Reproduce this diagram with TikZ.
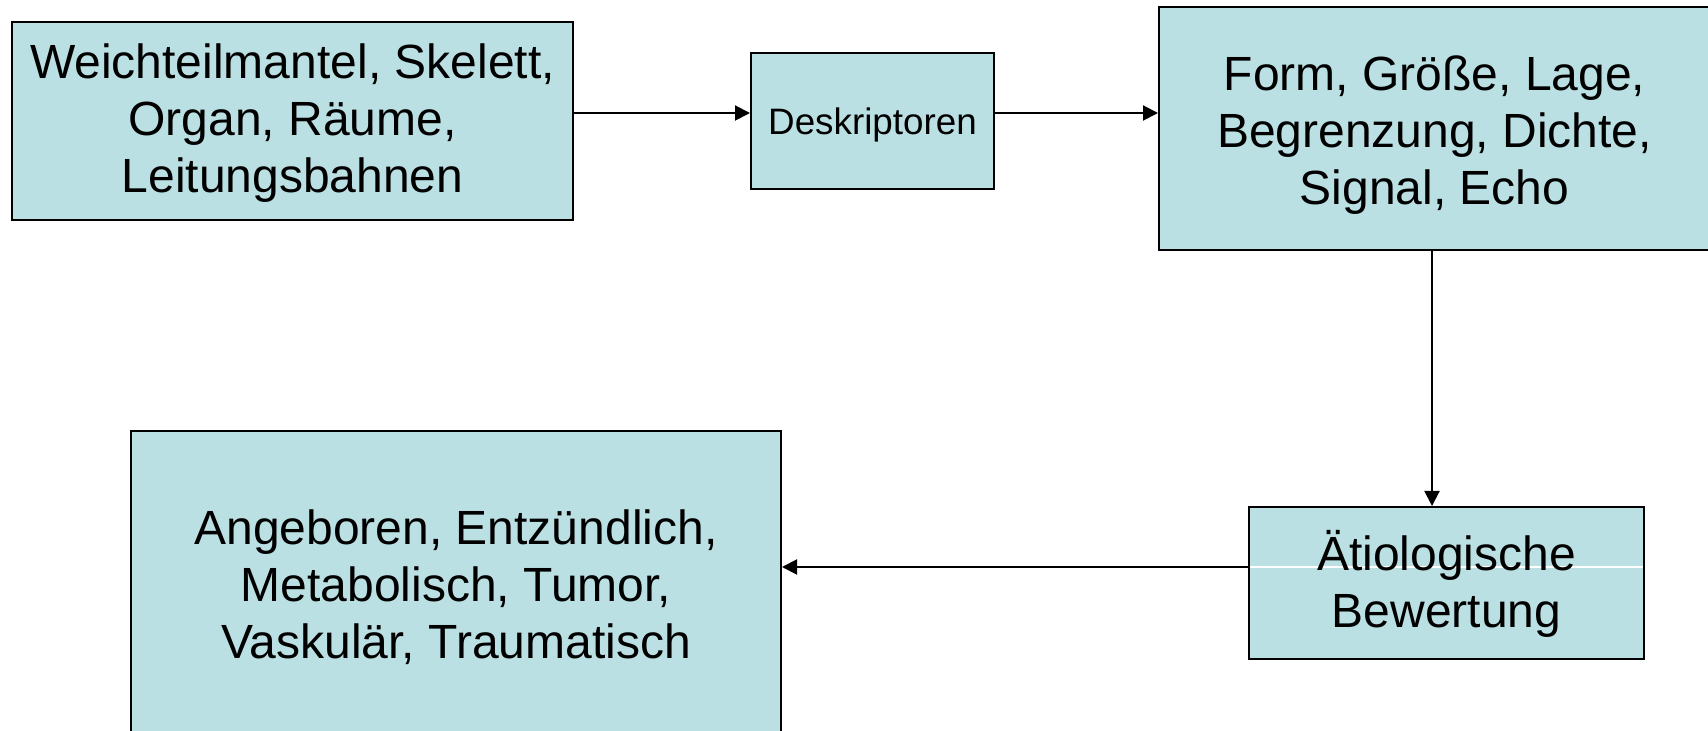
\documentclass[tikz,border=0pt]{standalone}
\usepackage{fontspec}
\setmainfont{Liberation Sans}
\usetikzlibrary{arrows.meta}
\definecolor{boxfill}{RGB}{187,224,227}
\newcommand{\shiftedtext}[2]{\raisebox{#1}[\height][\depth]{\begin{tabular}{@{}c@{}}#2\end{tabular}}}
\tikzset{
  box/.style={draw=black, line width=1pt, fill=boxfill, inner sep=0pt, align=center,
    font=\fontsize{24}{28.5}\selectfont},
  conn/.style={line width=1pt, -{Triangle[length=7.5pt,width=7.5pt]}}
}
\begin{document}
\begin{tikzpicture}[x=0.5pt,y=-0.5pt]
\useasboundingbox (0,0) rectangle (1708,731);
\node[box, minimum width=280.5pt, minimum height=99pt] (b1) at (292.5,121)
  {\shiftedtext{-1.6pt}{Weichteilmantel, Skelett,\\Organ, Räume,\\Leitungsbahnen}};
\node[box, minimum width=121.5pt, minimum height=68pt, font=\fontsize{18.4}{22}\selectfont] (b2) at (872.5,121)
  {\shiftedtext{-2.2pt}{Deskriptoren}};
\node[box, minimum width=275.5pt, minimum height=121.5pt] (b3) at (1434.5,128.5)
  {\shiftedtext{-3.8pt}{Form, Größe, Lage,\\Begrenzung, Dichte,\\Signal, Echo}};
\node[box, minimum width=197.5pt, minimum height=76pt,
  path picture={\draw[white,line width=0.6pt] ([yshift=8pt]path picture bounding box.west) -- ([yshift=8pt]path picture bounding box.east);}] (b4) at (1446.5,583)
  {\shiftedtext{-2.2pt}{Ätiologische\\Bewertung}};
\node[box, minimum width=325pt, minimum height=157pt] (b5) at (456,588)
  {\shiftedtext{-1pt}{Angeboren, Entzündlich,\\Metabolisch, Tumor,\\Vaskulär, Traumatisch}};
\draw[conn] ([yshift=4pt]b1.east) -- ([yshift=4pt]b2.west);
\draw[conn] ([yshift=4pt]b2.east) -- ([yshift=7.75pt]b3.west);
\draw[conn] ([xshift=-1.25pt]b3.south) -- ([xshift=-7.25pt]b4.north);
\draw[conn] ([yshift=8pt]b4.west) -- ([yshift=10.5pt]b5.east);
\end{tikzpicture}
\end{document}
